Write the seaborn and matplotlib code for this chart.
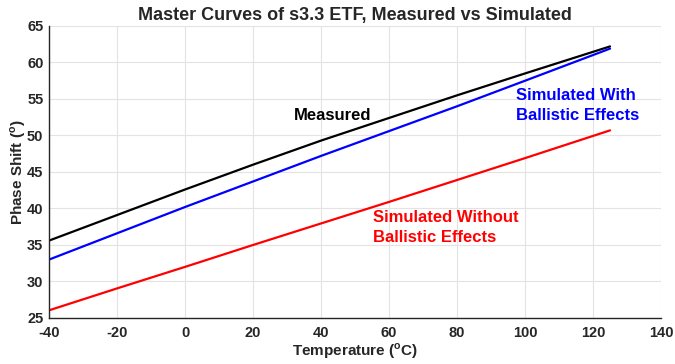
import numpy as np
import pandas as pd
import matplotlib
matplotlib.use("Agg")
import matplotlib.pyplot as plt
import seaborn as sns

# temperatures (degC) and phase shift (deg)
temperatura = [-40, -20, 0, 20, 40, 60, 80, 100, 125]
medido = [35.6, 39.1, 42.6, 46.0, 49.3, 52.4, 55.5, 58.5, 62.2]
sim_con_balistico = [33.0, 36.6, 40.2, 43.7, 47.2, 50.6, 54.0, 57.5, 61.9]
sim_sin_balistico = [26.05, 29.05, 32.0, 35.0, 37.95, 40.9, 43.9, 46.9, 50.7]

series = ["Measured", "Simulated With Ballistic Effects", "Simulated Without Ballistic Effects"]
colores = ["#000000", "#0000ff", "#ff0000"]

datos = pd.DataFrame({
    "temp": temperatura * 3,
    "fase": medido + sim_con_balistico + sim_sin_balistico,
    "serie": [series[0]] * len(temperatura) + [series[1]] * len(temperatura) + [series[2]] * len(temperatura),
})

sns.set_style("whitegrid")
plt.rcParams["font.family"] = ["Liberation Sans", "DejaVu Sans"]
plt.rcParams["font.weight"] = "bold"
plt.rcParams["axes.unicode_minus"] = False
plt.rcParams["mathtext.fontset"] = "custom"
plt.rcParams["mathtext.bf"] = "Liberation Sans:bold"
plt.rcParams["mathtext.rm"] = "Liberation Sans:bold"

fig = plt.figure(figsize=(6.75, 3.64), dpi=100)
ax = fig.add_axes([0.0726, 0.1264, 0.9067, 0.8022])

sns.lineplot(data=datos, x="temp", y="fase", hue="serie", palette=colores,
             linewidth=1.6, legend=False, ax=ax)

ax.set_xlim(-40, 140)
ax.set_ylim(25, 65)
ax.set_xticks(np.arange(-40, 141, 20))
ax.set_yticks(np.arange(25, 66, 5))
ax.grid(True, color="#e3e3e3", linewidth=0.8)

for lado in ["top", "right"]:
    ax.spines[lado].set_visible(False)
for lado in ["left", "bottom"]:
    ax.spines[lado].set_color("#262626")
    ax.spines[lado].set_linewidth(1.0)

ax.tick_params(direction="in", length=4, width=0.8, color="#262626",
               labelsize=10.5, labelcolor="#262626")
ax.tick_params(axis="x", pad=6)
ax.tick_params(axis="y", pad=4)
for lbl in ax.get_xticklabels() + ax.get_yticklabels():
    lbl.set_fontweight("bold")

ax.set_xlabel(r"Temperature ($^{\mathbf{o}}$C)", fontsize=11, fontweight="bold", color="#262626", labelpad=1)
ax.set_ylabel(r"Phase Shift ($^{\mathbf{o}}$)", fontsize=11, fontweight="bold", color="#262626", labelpad=-1)
ax.set_title("Master Curves of s3.3 ETF, Measured vs Simulated", fontsize=13, fontweight="bold", pad=4)

ax.text(32, 52.8, "Measured", color="#000000", fontsize=12, fontweight="bold", va="center", ha="left")
ax.text(97.4, 54.1, "Simulated With\nBallistic Effects", color="#0000ff", fontsize=12,
        fontweight="bold", va="center", ha="left", linespacing=1.45)
ax.text(55.3, 37.4, "Simulated Without\nBallistic Effects", color="#ff0000", fontsize=12,
        fontweight="bold", va="center", ha="left", linespacing=1.45)

fig.savefig("out.png", dpi=100)
